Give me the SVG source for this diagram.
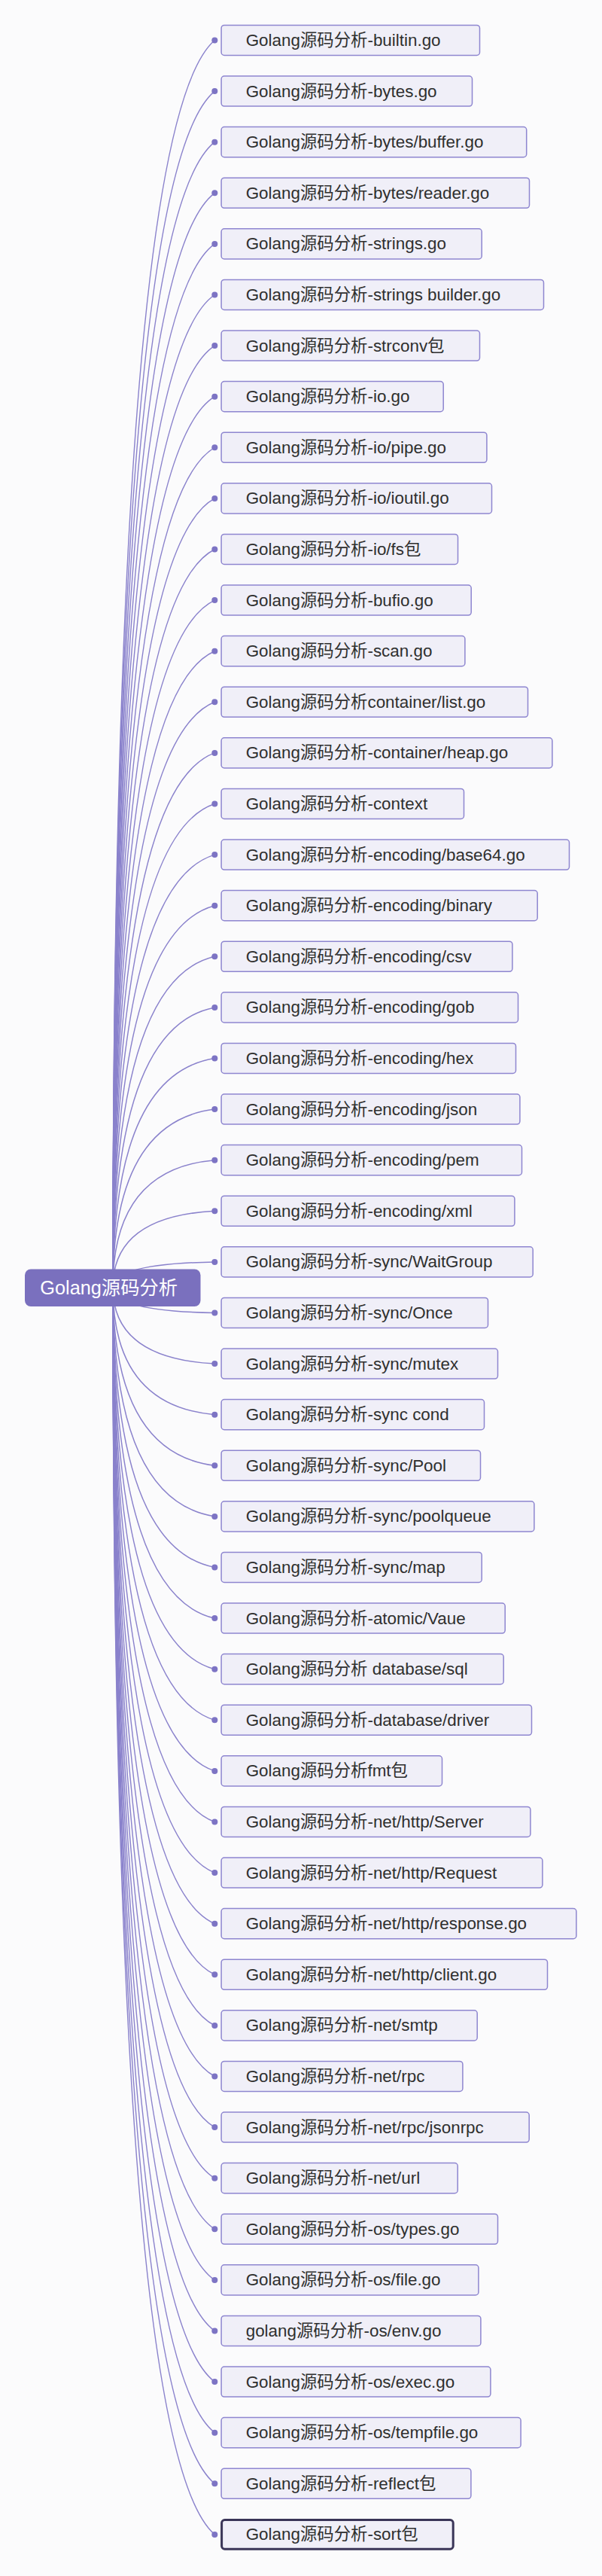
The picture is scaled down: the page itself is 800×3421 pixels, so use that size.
<svg xmlns="http://www.w3.org/2000/svg" width="800" height="3421" viewBox="0 0 800 3421">
<style>
.bg{fill:#fbfbfc}
.n rect{fill:#f0eff8;stroke:#8e86d0;stroke-width:1.5}
.n text{font-family:"Liberation Sans","Noto Sans CJK SC",sans-serif;font-size:22.4px;fill:#2f2f2f}
.sel rect{stroke:#3a3558;stroke-width:3}
.c path{fill:none;stroke:#8a82cc;stroke-width:1.5}
.c circle{fill:#7d74c4}
.root rect{fill:#7a70be}
.root text{font-family:"Liberation Sans","Noto Sans CJK SC",sans-serif;font-size:25.3px;fill:#ffffff}
</style>
<rect class="bg" x="0" y="0" width="800" height="3421"/>
<g id="connectors" class="c">
<path d="M150 1709.7Q150 169.4 285.3 53.5"/><circle cx="285.3" cy="53.5" r="4"/>
<path d="M150 1709.7Q150 232.3 285.3 121.1"/><circle cx="285.3" cy="121.1" r="4"/>
<path d="M150 1709.7Q150 295.2 285.3 188.7"/><circle cx="285.3" cy="188.7" r="4"/>
<path d="M150 1709.7Q150 358 285.3 256.3"/><circle cx="285.3" cy="256.3" r="4"/>
<path d="M150 1709.7Q150 420.9 285.3 323.9"/><circle cx="285.3" cy="323.9" r="4"/>
<path d="M150 1709.7Q150 483.8 285.3 391.5"/><circle cx="285.3" cy="391.5" r="4"/>
<path d="M150 1709.7Q150 546.6 285.3 459.1"/><circle cx="285.3" cy="459.1" r="4"/>
<path d="M150 1709.7Q150 609.5 285.3 526.7"/><circle cx="285.3" cy="526.7" r="4"/>
<path d="M150 1709.7Q150 672.4 285.3 594.3"/><circle cx="285.3" cy="594.3" r="4"/>
<path d="M150 1709.7Q150 735.2 285.3 661.9"/><circle cx="285.3" cy="661.9" r="4"/>
<path d="M150 1709.7Q150 798.1 285.3 729.5"/><circle cx="285.3" cy="729.5" r="4"/>
<path d="M150 1709.7Q150 861 285.3 797.1"/><circle cx="285.3" cy="797.1" r="4"/>
<path d="M150 1709.7Q150 923.9 285.3 864.7"/><circle cx="285.3" cy="864.7" r="4"/>
<path d="M150 1709.7Q150 986.7 285.3 932.3"/><circle cx="285.3" cy="932.3" r="4"/>
<path d="M150 1709.7Q150 1049.6 285.3 999.9"/><circle cx="285.3" cy="999.9" r="4"/>
<path d="M150 1709.7Q150 1112.5 285.3 1067.5"/><circle cx="285.3" cy="1067.5" r="4"/>
<path d="M150 1709.7Q150 1175.3 285.3 1135.1"/><circle cx="285.3" cy="1135.1" r="4"/>
<path d="M150 1709.7Q150 1238.2 285.3 1202.7"/><circle cx="285.3" cy="1202.7" r="4"/>
<path d="M150 1709.7Q150 1301.1 285.3 1270.3"/><circle cx="285.3" cy="1270.3" r="4"/>
<path d="M150 1709.7Q150 1363.9 285.3 1337.9"/><circle cx="285.3" cy="1337.9" r="4"/>
<path d="M150 1709.7Q150 1426.8 285.3 1405.5"/><circle cx="285.3" cy="1405.5" r="4"/>
<path d="M150 1709.7Q150 1489.7 285.3 1473.1"/><circle cx="285.3" cy="1473.1" r="4"/>
<path d="M150 1709.7Q150 1552.5 285.3 1540.7"/><circle cx="285.3" cy="1540.7" r="4"/>
<path d="M150 1709.7Q150 1615.4 285.3 1608.3"/><circle cx="285.3" cy="1608.3" r="4"/>
<path d="M150 1709.7Q150 1678.3 285.3 1675.9"/><circle cx="285.3" cy="1675.9" r="4"/>
<path d="M150 1709.7Q150 1741.1 285.3 1743.5"/><circle cx="285.3" cy="1743.5" r="4"/>
<path d="M150 1709.7Q150 1804 285.3 1811.1"/><circle cx="285.3" cy="1811.1" r="4"/>
<path d="M150 1709.7Q150 1866.9 285.3 1878.7"/><circle cx="285.3" cy="1878.7" r="4"/>
<path d="M150 1709.7Q150 1929.7 285.3 1946.3"/><circle cx="285.3" cy="1946.3" r="4"/>
<path d="M150 1709.7Q150 1992.6 285.3 2013.9"/><circle cx="285.3" cy="2013.9" r="4"/>
<path d="M150 1709.7Q150 2055.5 285.3 2081.5"/><circle cx="285.3" cy="2081.5" r="4"/>
<path d="M150 1709.7Q150 2118.3 285.3 2149.1"/><circle cx="285.3" cy="2149.1" r="4"/>
<path d="M150 1709.7Q150 2181.2 285.3 2216.7"/><circle cx="285.3" cy="2216.7" r="4"/>
<path d="M150 1709.7Q150 2244.1 285.3 2284.3"/><circle cx="285.3" cy="2284.3" r="4"/>
<path d="M150 1709.7Q150 2306.9 285.3 2351.9"/><circle cx="285.3" cy="2351.9" r="4"/>
<path d="M150 1709.7Q150 2369.8 285.3 2419.5"/><circle cx="285.3" cy="2419.5" r="4"/>
<path d="M150 1709.7Q150 2432.7 285.3 2487.1"/><circle cx="285.3" cy="2487.1" r="4"/>
<path d="M150 1709.7Q150 2495.5 285.3 2554.7"/><circle cx="285.3" cy="2554.7" r="4"/>
<path d="M150 1709.7Q150 2558.4 285.3 2622.3"/><circle cx="285.3" cy="2622.3" r="4"/>
<path d="M150 1709.7Q150 2621.3 285.3 2689.9"/><circle cx="285.3" cy="2689.9" r="4"/>
<path d="M150 1709.7Q150 2684.2 285.3 2757.5"/><circle cx="285.3" cy="2757.5" r="4"/>
<path d="M150 1709.7Q150 2747 285.3 2825.1"/><circle cx="285.3" cy="2825.1" r="4"/>
<path d="M150 1709.7Q150 2809.9 285.3 2892.7"/><circle cx="285.3" cy="2892.7" r="4"/>
<path d="M150 1709.7Q150 2872.8 285.3 2960.3"/><circle cx="285.3" cy="2960.3" r="4"/>
<path d="M150 1709.7Q150 2935.6 285.3 3027.9"/><circle cx="285.3" cy="3027.9" r="4"/>
<path d="M150 1709.7Q150 2998.5 285.3 3095.5"/><circle cx="285.3" cy="3095.5" r="4"/>
<path d="M150 1709.7Q150 3061.4 285.3 3163.1"/><circle cx="285.3" cy="3163.1" r="4"/>
<path d="M150 1709.7Q150 3124.2 285.3 3230.7"/><circle cx="285.3" cy="3230.7" r="4"/>
<path d="M150 1709.7Q150 3187.1 285.3 3298.3"/><circle cx="285.3" cy="3298.3" r="4"/>
<path d="M150 1709.7Q150 3250 285.3 3365.9"/><circle cx="285.3" cy="3365.9" r="4"/>
</g>
<g id="root" class="root"><rect x="33" y="1685.5" width="233.5" height="49.5" rx="8"/><text x="53.3" y="1718.5">Golang源码分析</text></g>
<g id="n0" class="n"><rect x="294.1" y="33.4" width="343.4" height="40.1" rx="4"/><text x="326.7" y="61">Golang源码分析-builtin.go</text></g>
<g id="n1" class="n"><rect x="294.1" y="101" width="333.4" height="40.1" rx="4"/><text x="326.7" y="128.6">Golang源码分析-bytes.go</text></g>
<g id="n2" class="n"><rect x="294.1" y="168.6" width="405.6" height="40.1" rx="4"/><text x="326.7" y="196.2">Golang源码分析-bytes/buffer.go</text></g>
<g id="n3" class="n"><rect x="294.1" y="236.2" width="409.4" height="40.1" rx="4"/><text x="326.7" y="263.8">Golang源码分析-bytes/reader.go</text></g>
<g id="n4" class="n"><rect x="294.1" y="303.8" width="346.1" height="40.1" rx="4"/><text x="326.7" y="331.4">Golang源码分析-strings.go</text></g>
<g id="n5" class="n"><rect x="294.1" y="371.4" width="428.4" height="40.1" rx="4"/><text x="326.7" y="399">Golang源码分析-strings builder.go</text></g>
<g id="n6" class="n"><rect x="294.1" y="439" width="343.4" height="40.1" rx="4"/><text x="326.7" y="466.6">Golang源码分析-strconv包</text></g>
<g id="n7" class="n"><rect x="294.1" y="506.6" width="295.1" height="40.1" rx="4"/><text x="326.7" y="534.2">Golang源码分析-io.go</text></g>
<g id="n8" class="n"><rect x="294.1" y="574.2" width="352.8" height="40.1" rx="4"/><text x="326.7" y="601.8">Golang源码分析-io/pipe.go</text></g>
<g id="n9" class="n"><rect x="294.1" y="641.8" width="359.4" height="40.1" rx="4"/><text x="326.7" y="669.4">Golang源码分析-io/ioutil.go</text></g>
<g id="n10" class="n"><rect x="294.1" y="709.4" width="314.4" height="40.1" rx="4"/><text x="326.7" y="737">Golang源码分析-io/fs包</text></g>
<g id="n11" class="n"><rect x="294.1" y="777" width="332.1" height="40.1" rx="4"/><text x="326.7" y="804.6">Golang源码分析-bufio.go</text></g>
<g id="n12" class="n"><rect x="294.1" y="844.6" width="323.8" height="40.1" rx="4"/><text x="326.7" y="872.2">Golang源码分析-scan.go</text></g>
<g id="n13" class="n"><rect x="294.1" y="912.2" width="407.4" height="40.1" rx="4"/><text x="326.7" y="939.8">Golang源码分析container/list.go</text></g>
<g id="n14" class="n"><rect x="294.1" y="979.8" width="439.8" height="40.1" rx="4"/><text x="326.7" y="1007.4">Golang源码分析-container/heap.go</text></g>
<g id="n15" class="n"><rect x="294.1" y="1047.4" width="322.4" height="40.1" rx="4"/><text x="326.7" y="1075">Golang源码分析-context</text></g>
<g id="n16" class="n"><rect x="294.1" y="1115" width="462.4" height="40.1" rx="4"/><text x="326.7" y="1142.6">Golang源码分析-encoding/base64.go</text></g>
<g id="n17" class="n"><rect x="294.1" y="1182.6" width="420.1" height="40.1" rx="4"/><text x="326.7" y="1210.2">Golang源码分析-encoding/binary</text></g>
<g id="n18" class="n"><rect x="294.1" y="1250.2" width="386.8" height="40.1" rx="4"/><text x="326.7" y="1277.8">Golang源码分析-encoding/csv</text></g>
<g id="n19" class="n"><rect x="294.1" y="1317.8" width="394.4" height="40.1" rx="4"/><text x="326.7" y="1345.4">Golang源码分析-encoding/gob</text></g>
<g id="n20" class="n"><rect x="294.1" y="1385.4" width="391.4" height="40.1" rx="4"/><text x="326.7" y="1413">Golang源码分析-encoding/hex</text></g>
<g id="n21" class="n"><rect x="294.1" y="1453" width="396.8" height="40.1" rx="4"/><text x="326.7" y="1480.6">Golang源码分析-encoding/json</text></g>
<g id="n22" class="n"><rect x="294.1" y="1520.6" width="399.4" height="40.1" rx="4"/><text x="326.7" y="1548.2">Golang源码分析-encoding/pem</text></g>
<g id="n23" class="n"><rect x="294.1" y="1588.2" width="389.8" height="40.1" rx="4"/><text x="326.7" y="1615.8">Golang源码分析-encoding/xml</text></g>
<g id="n24" class="n"><rect x="294.1" y="1655.8" width="414.1" height="40.1" rx="4"/><text x="326.7" y="1683.4">Golang源码分析-sync/WaitGroup</text></g>
<g id="n25" class="n"><rect x="294.1" y="1723.4" width="354.4" height="40.1" rx="4"/><text x="326.7" y="1751">Golang源码分析-sync/Once</text></g>
<g id="n26" class="n"><rect x="294.1" y="1791" width="367.4" height="40.1" rx="4"/><text x="326.7" y="1818.6">Golang源码分析-sync/mutex</text></g>
<g id="n27" class="n"><rect x="294.1" y="1858.6" width="349.4" height="40.1" rx="4"/><text x="326.7" y="1886.2">Golang源码分析-sync cond</text></g>
<g id="n28" class="n"><rect x="294.1" y="1926.2" width="344.4" height="40.1" rx="4"/><text x="326.7" y="1953.8">Golang源码分析-sync/Pool</text></g>
<g id="n29" class="n"><rect x="294.1" y="1993.8" width="415.8" height="40.1" rx="4"/><text x="326.7" y="2021.4">Golang源码分析-sync/poolqueue</text></g>
<g id="n30" class="n"><rect x="294.1" y="2061.4" width="346.1" height="40.1" rx="4"/><text x="326.7" y="2089">Golang源码分析-sync/map</text></g>
<g id="n31" class="n"><rect x="294.1" y="2129" width="377.1" height="40.1" rx="4"/><text x="326.7" y="2156.6">Golang源码分析-atomic/Vaue</text></g>
<g id="n32" class="n"><rect x="294.1" y="2196.6" width="375.1" height="40.1" rx="4"/><text x="326.7" y="2224.2">Golang源码分析 database/sql</text></g>
<g id="n33" class="n"><rect x="294.1" y="2264.2" width="412.4" height="40.1" rx="4"/><text x="326.7" y="2291.8">Golang源码分析-database/driver</text></g>
<g id="n34" class="n"><rect x="294.1" y="2331.8" width="293.4" height="40.1" rx="4"/><text x="326.7" y="2359.4">Golang源码分析fmt包</text></g>
<g id="n35" class="n"><rect x="294.1" y="2399.4" width="410.8" height="40.1" rx="4"/><text x="326.7" y="2427">Golang源码分析-net/http/Server</text></g>
<g id="n36" class="n"><rect x="294.1" y="2467" width="426.8" height="40.1" rx="4"/><text x="326.7" y="2494.6">Golang源码分析-net/http/Request</text></g>
<g id="n37" class="n"><rect x="294.1" y="2534.6" width="471.8" height="40.1" rx="4"/><text x="326.7" y="2562.2">Golang源码分析-net/http/response.go</text></g>
<g id="n38" class="n"><rect x="294.1" y="2602.2" width="433.4" height="40.1" rx="4"/><text x="326.7" y="2629.8">Golang源码分析-net/http/client.go</text></g>
<g id="n39" class="n"><rect x="294.1" y="2669.8" width="340.1" height="40.1" rx="4"/><text x="326.7" y="2697.4">Golang源码分析-net/smtp</text></g>
<g id="n40" class="n"><rect x="294.1" y="2737.4" width="320.8" height="40.1" rx="4"/><text x="326.7" y="2765">Golang源码分析-net/rpc</text></g>
<g id="n41" class="n"><rect x="294.1" y="2805" width="409.1" height="40.1" rx="4"/><text x="326.7" y="2832.6">Golang源码分析-net/rpc/jsonrpc</text></g>
<g id="n42" class="n"><rect x="294.1" y="2872.6" width="314.1" height="40.1" rx="4"/><text x="326.7" y="2900.2">Golang源码分析-net/url</text></g>
<g id="n43" class="n"><rect x="294.1" y="2940.2" width="367.4" height="40.1" rx="4"/><text x="326.7" y="2967.8">Golang源码分析-os/types.go</text></g>
<g id="n44" class="n"><rect x="294.1" y="3007.8" width="341.8" height="40.1" rx="4"/><text x="326.7" y="3035.4">Golang源码分析-os/file.go</text></g>
<g id="n45" class="n"><rect x="294.1" y="3075.4" width="344.8" height="40.1" rx="4"/><text x="326.7" y="3103">golang源码分析-os/env.go</text></g>
<g id="n46" class="n"><rect x="294.1" y="3143" width="357.8" height="40.1" rx="4"/><text x="326.7" y="3170.6">Golang源码分析-os/exec.go</text></g>
<g id="n47" class="n"><rect x="294.1" y="3210.6" width="398" height="40.1" rx="4"/><text x="326.7" y="3238.2">Golang源码分析-os/tempfile.go</text></g>
<g id="n48" class="n"><rect x="294.1" y="3278.2" width="331.8" height="40.1" rx="4"/><text x="326.7" y="3305.8">Golang源码分析-reflect包</text></g>
<g id="n49" class="n sel"><rect x="294.6" y="3346.6" width="307.6" height="38.6" rx="4"/><text x="326.7" y="3373.4">Golang源码分析-sort包</text></g>
</svg>
